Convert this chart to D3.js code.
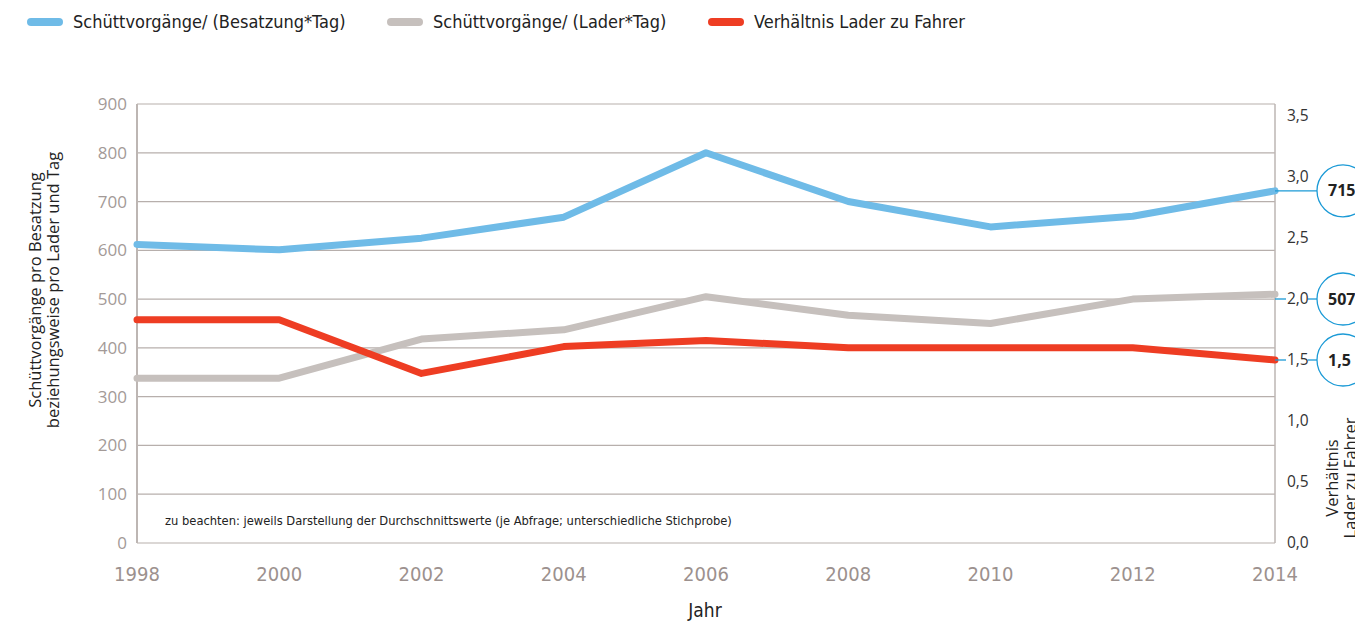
<!DOCTYPE html>
<html><head><meta charset="utf-8">
<script src="https://cdn.jsdelivr.net/npm/d3@7"></script>
<style>
body{margin:0;background:#fff;}
svg{display:block;}
</style></head>
<body>
<svg id="chart" width="1355" height="623"></svg>
<script>
const years = [1998, 2000, 2002, 2004, 2006, 2008, 2010, 2012, 2014];
const besatzung = [612, 601, 625, 668, 800, 700, 648, 670, 722];
const lader = [338, 338, 418, 437, 505, 467, 450, 500, 510];
const verhaeltnis = [1.83, 1.83, 1.39, 1.61, 1.66, 1.6, 1.6, 1.6, 1.5];
const leftTicks = [0, 100, 200, 300, 400, 500, 600, 700, 800, 900];
const rightTicks = [0, 0.5, 1.0, 1.5, 2.0, 2.5, 3.0, 3.5];
const seriesNames = ["Schüttvorgänge/ (Besatzung*Tag)", "Schüttvorgänge/ (Lader*Tag)", "Verhältnis Lader zu Fahrer"];
const seriesColors = ["#6fbbe7", "#c6c0bd", "#ee3d23"];
const calloutLabels = ["715", "507", "1,5"];
const calloutAxisValues = [null, 2.0, 1.5];

const svg = d3.select("#chart");
const narrow = "'Liberation Sans Narrow','DejaVu Sans Condensed',sans-serif";
const sans = "'Open Sans','Noto Sans',sans-serif";

const x = d3.scaleLinear().domain([1998, 2014]).range([137, 1275]);
const yL = d3.scaleLinear().domain([0, 900]).range([543, 104]);
const yR = d3.scaleLinear().domain([0, 3.5]).range([543, 116]);
const fmtR = v => d3.format(".1f")(v).replace(".", ",");

// gridlines
svg.append("g").selectAll("line").data(leftTicks).join("line")
  .attr("x1", x(1998)).attr("x2", x(2014))
  .attr("y1", d => yL(d)).attr("y2", d => yL(d))
  .attr("stroke", "#b7afac").attr("stroke-width", 1.2);
// axes lines
svg.append("line").attr("x1", x(1998)).attr("x2", x(1998)).attr("y1", yL(900)).attr("y2", yL(0))
  .attr("stroke", "#bdb6b3").attr("stroke-width", 2);
svg.append("line").attr("x1", x(2014)).attr("x2", x(2014)).attr("y1", yL(900)).attr("y2", yL(0))
  .attr("stroke", "#bdb6b3").attr("stroke-width", 1.5);

// left tick labels
svg.append("g").selectAll("text").data(leftTicks).join("text")
  .attr("x", 127).attr("y", d => yL(d)).attr("dy", "0.35em")
  .attr("text-anchor", "end").attr("font-family", sans).attr("font-size", 17)
  .attr("fill", "#a39a97").text(d => d);

// x tick labels
svg.append("g").selectAll("text").data(years).join("text")
  .attr("x", d => x(d)).attr("y", 581)
  .attr("text-anchor", "middle").attr("font-family", narrow).attr("font-size", 20)
  .attr("fill", "#9c918e").text(d => d);

svg.append("text").attr("x", 705).attr("y", 617).attr("text-anchor", "middle")
  .attr("font-family", narrow).attr("font-size", 19).attr("fill", "#222").text("Jahr");

// right tick labels
svg.append("g").selectAll("text").data(rightTicks).join("text")
  .attr("x", 1287).attr("y", d => yR(d)).attr("dy", "0.35em")
  .attr("text-anchor", "start").attr("font-family", sans).attr("font-size", 15.5)
  .attr("fill", "#333").text(d => fmtR(d));

// left axis title
const lt = svg.append("text").attr("transform", "translate(43,290) rotate(-90)")
  .attr("text-anchor", "middle").attr("font-family", sans).attr("font-size", 16.5).attr("fill", "#222");
lt.append("tspan").attr("x", 0).attr("dy", "-0.15em").text("Schüttvorgänge pro Besatzung");
lt.append("tspan").attr("x", 0).attr("dy", "1.1em").text("beziehungsweise pro Lader und Tag");

// right axis title
const rt = svg.append("text").attr("transform", "translate(1340,478) rotate(-90)")
  .attr("text-anchor", "middle").attr("font-family", sans).attr("font-size", 16.5).attr("fill", "#222");
rt.append("tspan").attr("x", 0).attr("dy", "-0.15em").text("Verhältnis");
rt.append("tspan").attr("x", 0).attr("dy", "1.1em").text("Lader zu Fahrer");

// note
svg.append("text").attr("x", 165).attr("y", 525).attr("font-family", narrow).attr("font-size", 12.8)
  .attr("fill", "#222").text("zu beachten: jeweils Darstellung der Durchschnittswerte (je Abfrage; unterschiedliche Stichprobe)");

// lines
const series = [
  {vals: besatzung, y: yL},
  {vals: lader, y: yL},
  {vals: verhaeltnis, y: yR}
];
series.forEach((s, i) => {
  const line = d3.line().x((d, j) => x(years[j])).y(d => s.y(d));
  svg.append("path").datum(s.vals).attr("d", line)
    .attr("fill", "none").attr("stroke", seriesColors[i]).attr("stroke-width", 7)
    .attr("stroke-linecap", "round").attr("stroke-linejoin", "round");
});

// callouts
const calloutBlue = "#1b9ad6";
const circleX = 1343, r = 26;
series.forEach((s, i) => {
  const last = s.vals[s.vals.length - 1];
  const av = calloutAxisValues[i];
  const cy = av === null ? s.y(last) : yR(av);
  if (av === null) {
    svg.append("line").attr("x1", x(2014)).attr("x2", circleX - r).attr("y1", cy).attr("y2", cy)
      .attr("stroke", calloutBlue).attr("stroke-width", 1.3);
  } else {
    svg.append("line").attr("x1", x(2014)).attr("x2", 1286).attr("y1", cy).attr("y2", cy)
      .attr("stroke", calloutBlue).attr("stroke-width", 1.3);
    svg.append("line").attr("x1", 1308).attr("x2", circleX - r).attr("y1", cy).attr("y2", cy)
      .attr("stroke", calloutBlue).attr("stroke-width", 1.3);
  }
  svg.append("circle").attr("cx", circleX).attr("cy", cy).attr("r", r)
    .attr("fill", "#fff").attr("stroke", calloutBlue).attr("stroke-width", 1.3);
  svg.append("text").attr("x", 1328).attr("y", cy).attr("dy", "0.35em").attr("text-anchor", "start")
    .attr("font-family", sans).attr("font-size", 16).attr("font-weight", "bold").attr("fill", "#222")
    .text(calloutLabels[i]);
});

// legend
const legX = [27, 387, 708];
seriesNames.forEach((n, i) => {
  svg.append("line").attr("x1", legX[i] + 4).attr("x2", legX[i] + 32).attr("y1", 22).attr("y2", 22)
    .attr("stroke", seriesColors[i]).attr("stroke-width", 8).attr("stroke-linecap", "round");
  svg.append("text").attr("x", legX[i] + 46).attr("y", 22).attr("dy", "0.35em")
    .attr("font-family", narrow).attr("font-size", 18).attr("fill", "#222").text(n);
});
</script>
</body></html>
